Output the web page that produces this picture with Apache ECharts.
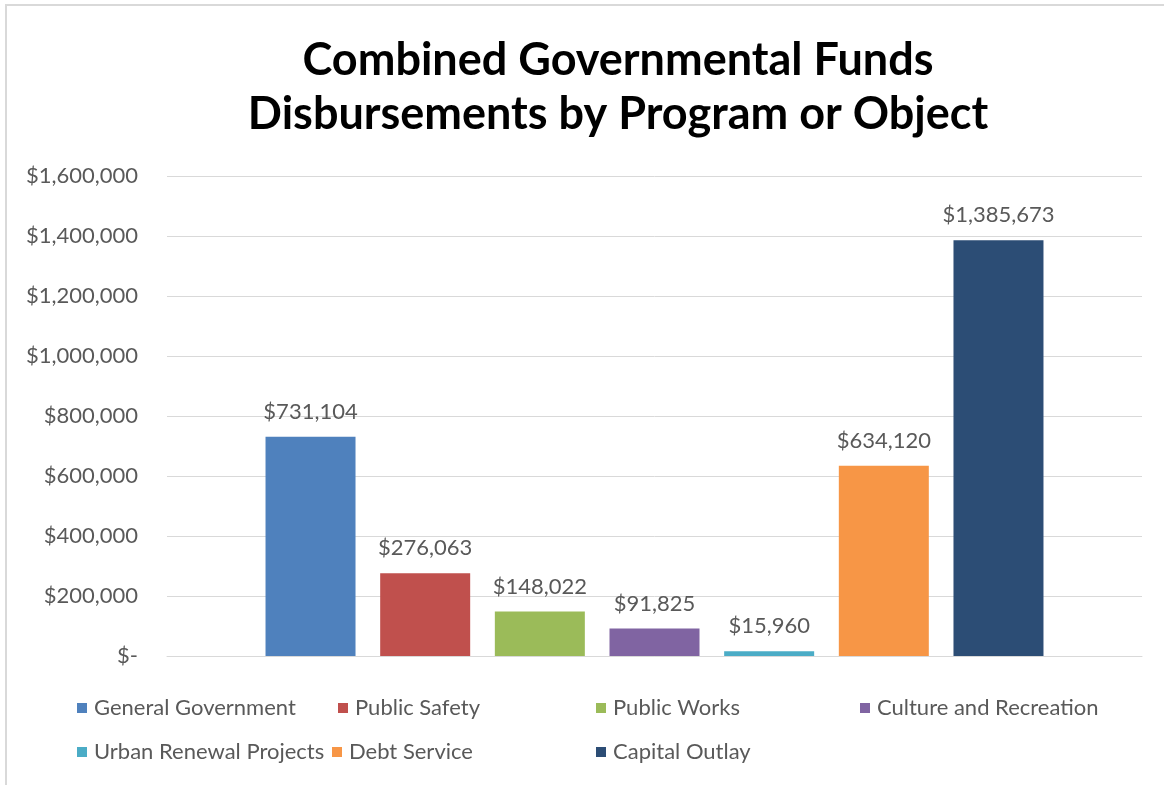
<!DOCTYPE html>
<html>
<head>
<meta charset="utf-8">
<script src="https://cdn.jsdelivr.net/npm/echarts@6/dist/echarts.min.js"></script>
<style>
html,body{margin:0;padding:0;background:#fff;}
#chart{width:1164px;height:785px;}
</style>
</head>
<body>
<div id="chart"></div>
<script>
var seriesNames = ['General Government','Public Safety','Public Works','Culture and Recreation','Urban Renewal Projects','Debt Service','Capital Outlay'];
var seriesValues = [731104, 276063, 148022, 91825, 15960, 634120, 1385673];
var seriesColors = ['#4F81BD','#C0504D','#9BBB59','#8064A2','#4BACC6','#F79646','#2C4D75'];
var categories = [''];
var yTicks = [0, 200000, 400000, 600000, 800000, 1000000, 1200000, 1400000, 1600000];

var FONT = 'Lato';
var chart = echarts.init(document.getElementById('chart'));

var legendPos = [
  [77, 697], [338, 697], [596, 697], [860, 697],
  [77, 741], [332, 741], [596, 741]
];

var series = seriesNames.map(function(n, i){
  return {
    name: n,
    type: 'bar',
    data: [seriesValues[i]],
    barWidth: 90,
    barGap: '27.4%',
    itemStyle: {color: seriesColors[i]},
    label: {
      show: true,
      position: 'top',
      distance: 14,
      color: '#595959',
      fontFamily: FONT,
      fontSize: 22,
      formatter: function(p){ return '$' + p.value.toLocaleString('en-US'); }
    }
  };
});

var legends = seriesNames.map(function(n, i){
  return {
    data: [n],
    left: legendPos[i][0],
    top: legendPos[i][1],
    icon: 'rect',
    itemWidth: 10,
    itemHeight: 10,
    itemGap: 0,
    padding: 0,
    selectedMode: false,
    textStyle: {color: '#595959', fontFamily: FONT, fontSize: 22, padding: [0,0,0,2]}
  };
});

chart.setOption({
  animation: false,
  backgroundColor: '#fff',
  graphic: [{
    type: 'rect',
    shape: {x: 6, y: 5, width: 1200, height: 900},
    style: {fill: 'none', stroke: '#D9D9D9', lineWidth: 2},
    silent: true
  }],
  title: {
    text: 'Combined Governmental Funds\nDisbursements by Program or Object',
    left: 613,
    textAlign: 'center',
    top: 28,
    textStyle: {fontFamily: FONT, fontWeight: 'bold', fontSize: 45, lineHeight: 54, color: '#000'}
  },
  legend: legends,
  grid: {left: 167, right: 22, top: 176, bottom: 129, containLabel: false},
  xAxis: {
    type: 'category',
    data: categories,
    axisLine: {show: true, lineStyle: {color: '#D9D9D9', width: 1}},
    axisTick: {show: false},
    axisLabel: {show: false}
  },
  yAxis: {
    type: 'value',
    min: yTicks[0],
    max: yTicks[yTicks.length-1],
    interval: 200000,
    axisLine: {show: false},
    axisTick: {show: false},
    splitLine: {lineStyle: {color: '#D9D9D9', width: 1}},
    axisLabel: {
      margin: 29,
      color: '#595959',
      fontFamily: FONT,
      fontSize: 22,
      formatter: function(v){ return v === 0 ? '$-' : '$' + v.toLocaleString('en-US'); }
    }
  },
  series: series
});
</script>
</body>
</html>
